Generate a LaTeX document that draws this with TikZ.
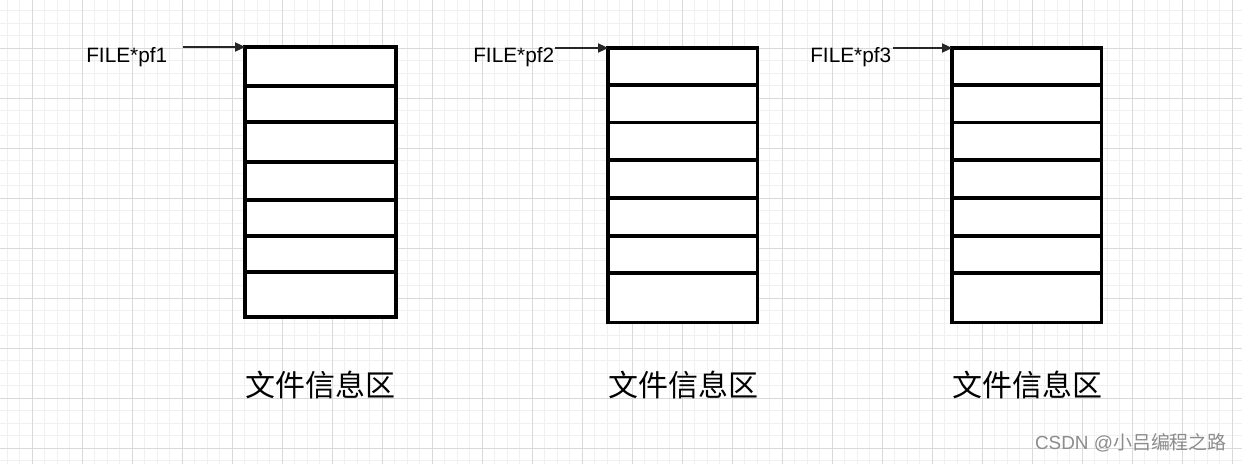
\documentclass[tikz,border=0pt]{standalone}
\usepackage{fontspec}
\setmainfont{Liberation Sans}
\newfontfamily\cjk{Noto Sans CJK SC}
\usetikzlibrary{arrows.meta}

\begin{document}
\begin{tikzpicture}[x=0.75pt,y=-0.75pt,
	minorgrid/.style={draw=black!6, line width=0.75pt},
	majorgrid/.style={draw=black!15, line width=0.75pt},
	cellbox/.style={line width=2.3pt},
	ptr/.style={-{Triangle[length=7.5pt,width=7pt]}, line width=0.8pt, draw=black!85},
	ptrlabel/.style={font=\fontsize{15.6}{18}\selectfont, anchor=base west, inner sep=0pt},
	arealabel/.style={font=\cjk\fontsize{22.5}{26}\selectfont, inner sep=0pt}]
	\fill[white] (0,0) rectangle (1242,464);
	\useasboundingbox (0,0) rectangle (1242,464);

	% background grid
	\foreach \i in {0,...,98} \draw[minorgrid] ({7+12.5*\i},0) -- ({7+12.5*\i},464);
	\foreach \i in {0,...,36} \draw[minorgrid] (0,{10.5+12.5*\i}) -- (1242,{10.5+12.5*\i});
	\foreach \i in {0,...,24} \draw[majorgrid] ({32+50*\i},0) -- ({32+50*\i},464);
	\foreach \i in {0,...,8} \draw[majorgrid] (0,{48+50*\i}) -- (1242,{48+50*\i});

	% first area
	\draw[cellbox, fill=white] (245,47) rectangle (396,317);
	\foreach \y in {86,122,162,200,236,272} \draw[cellbox] (245,\y) -- (396,\y);
	\coordinate (top1) at (245,47);
	\coordinate (tail1) at (183,47);
	\node[ptrlabel] (pf1) at (86,62) {FILE*pf1};
	\draw[ptr] (tail1) -- (top1);
	\node[arealabel] (area1) at (320.5,385) {文件信息区};

	% second area
	\draw[cellbox, fill=white] (608,48) rectangle (757.5,322.5);
	\foreach \y in {85,122.5,160,198,236,273} \draw[cellbox] (608,\y) -- (757.5,\y);
	\coordinate (top2) at (608,48);
	\coordinate (tail2) at (555,48);
	\node[ptrlabel] (pf2) at (473,62) {FILE*pf2};
	\draw[ptr] (tail2) -- (top2);
	\node[arealabel] (area2) at (683,385) {文件信息区};

	% third area
	\draw[cellbox, fill=white] (952,48) rectangle (1101.5,322.5);
	\foreach \y in {85,122.5,160,198,236,273} \draw[cellbox] (952,\y) -- (1101.5,\y);
	\coordinate (top3) at (952,48);
	\coordinate (tail3) at (893,48);
	\node[ptrlabel] (pf3) at (810,62) {FILE*pf3};
	\draw[ptr] (tail3) -- (top3);
	\node[arealabel] (area3) at (1027,385) {文件信息区};

	% watermark
	\node[text=black!45, font=\fontsize{14.2}{16}\selectfont, anchor=east, inner sep=0pt] (wm) at (1227,443) {CSDN @{\cjk 小吕编程之路}};
\end{tikzpicture}
\end{document}
